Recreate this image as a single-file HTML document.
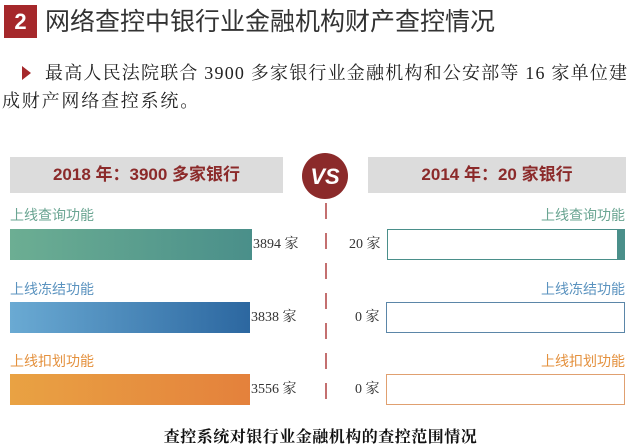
<!DOCTYPE html>
<html><head><meta charset="utf-8"><style>
body{margin:0;width:641px;height:444px;background:#fff;position:relative;overflow:hidden;font-family:"Liberation Sans","Noto Sans CJK SC",sans-serif}
.a{position:absolute;white-space:nowrap}
.serif{font-family:"Liberation Serif","Noto Serif CJK SC",serif}
.hdr{position:absolute;top:157px;height:36px;background:#dcdcdc;color:#8b2a2a;font-weight:bold;font-size:17px;line-height:36px;text-align:center}
.lbl{position:absolute;font-size:14px}
.num{position:absolute;font-size:14px;color:#333;line-height:31px}
</style></head><body>
<div class="a" style="left:4px;top:5px;width:33px;height:33px;background:#a5282b;color:#fff;font-weight:bold;font-size:22px;line-height:33px;text-align:center">2</div>
<div class="a" style="left:45px;top:6px;font-size:25px;line-height:32px;color:#333">网络查控中银行业金融机构财产查控情况</div>
<div class="a" style="left:22px;top:66px;width:0;height:0;border-left:9px solid #a5282b;border-top:7px solid transparent;border-bottom:7px solid transparent"></div>
<div class="a serif" style="left:45px;top:61px;font-size:18px;line-height:24px;color:#222;letter-spacing:1.2px">最高人民法院联合 3900 多家银行业金融机构和公安部等 16 家单位建</div>
<div class="a serif" style="left:2px;top:89px;font-size:18px;line-height:24px;color:#222;letter-spacing:1.8px">成财产网络查控系统。</div>
<div class="hdr" style="left:10px;width:273px">2018 年：3900 多家银行</div>
<div class="hdr" style="left:368px;width:258px">2014 年：20 家银行</div>
<svg class="a" style="left:0;top:0" width="641" height="444">
<circle cx="325" cy="176" r="23" fill="#8b2a2a"/>
<text x="325" y="184" text-anchor="middle" font-family="Liberation Sans" font-weight="bold" font-size="22" fill="#fff" font-style="italic">VS</text>
<line x1="326" y1="203" x2="326" y2="410" stroke="#b04040" stroke-width="1.5" stroke-dasharray="16,14"/>
<defs>
<linearGradient id="g1"><stop offset="0" stop-color="#6cae93"/><stop offset="1" stop-color="#4a8f8a"/></linearGradient>
<linearGradient id="g2"><stop offset="0" stop-color="#6aaad3"/><stop offset="1" stop-color="#2c67a0"/></linearGradient>
<linearGradient id="g3"><stop offset="0" stop-color="#e9a243"/><stop offset="1" stop-color="#e4813c"/></linearGradient>
</defs>
<rect x="10" y="229" width="242" height="31" fill="url(#g1)"/>
<rect x="10" y="302" width="240" height="31" fill="url(#g2)"/>
<rect x="10" y="374" width="240" height="31" fill="url(#g3)"/>
<rect x="387.5" y="229.5" width="237" height="30" fill="#fff" stroke="#4a8f8a"/>
<rect x="617" y="229" width="8" height="31" fill="#4a8f8a"/>
<rect x="386.5" y="302.5" width="238" height="30" fill="#fff" stroke="#5b86a8"/>
<rect x="386.5" y="374.5" width="238" height="30" fill="#fff" stroke="#e0a070"/>
</svg>
<div class="lbl" style="left:10px;top:205px;color:#6aa592">上线查询功能</div>
<div class="lbl" style="right:16px;top:205px;color:#6aa592">上线查询功能</div>
<div class="lbl" style="left:10px;top:279px;color:#5b93bf">上线冻结功能</div>
<div class="lbl" style="right:16px;top:279px;color:#5b93bf">上线冻结功能</div>
<div class="lbl" style="left:10px;top:351px;color:#e4913e">上线扣划功能</div>
<div class="lbl" style="right:16px;top:351px;color:#e4913e">上线扣划功能</div>
<div class="num serif" style="left:253px;top:229px">3894 家</div>
<div class="num serif" style="left:251px;top:302px">3838 家</div>
<div class="num serif" style="left:251px;top:374px">3556 家</div>
<div class="num serif" style="left:349px;top:229px">20 家</div>
<div class="num serif" style="left:355px;top:302px">0 家</div>
<div class="num serif" style="left:355px;top:374px">0 家</div>
<div class="a serif" style="left:0;width:641px;top:424px;text-align:center;font-size:16px;font-weight:bold;color:#111;letter-spacing:0.5px">查控系统对银行业金融机构的查控范围情况</div>
</body></html>
